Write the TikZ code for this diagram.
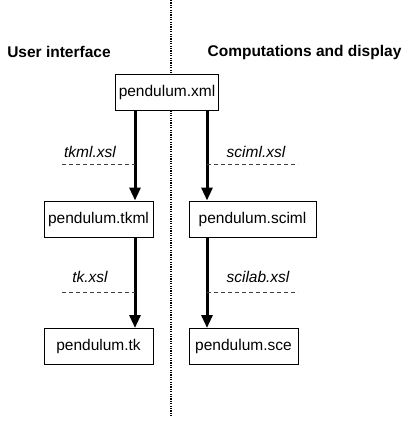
\documentclass[tikz,border=0pt]{standalone}
\usepackage{fontspec}
\setmainfont{Liberation Sans}
\usepackage{tikz}
\usetikzlibrary{arrows.meta}

\begin{document}
\begin{tikzpicture}[x=1pt, y=-1pt,
    font=\fontsize{15.5}{18}\selectfont,
    file/.style={rectangle, draw, fill=white, line width=1pt, minimum height=36pt, inner sep=3pt},
    head/.style={font=\fontsize{15.5}{18}\selectfont\bfseries},
    xsl/.style={font=\fontsize{15.5}{18}\selectfont\itshape},
    flow/.style={line width=3pt, -{Triangle[width=11pt,length=13pt]}},
    rule/.style={draw=black!75, line width=0.9pt, dash pattern=on 4pt off 3pt}]

    \useasboundingbox (0,0) rectangle (415,421);

    % separation between the two sides
    \coordinate (top) at (171,0);
    \coordinate (bot) at (171,416);
    \draw[line width=1.2pt, dash pattern=on 1.2pt off 1.2pt] (top) -- (bot);

    \node[head] (ui) at (59,52) {User interface};
    \node[head] (cd) at (304.5,52) {Computations and display};

    \node[file] (xml) at (167,92) {pendulum.xml};
    \node[file, minimum width=109pt] (tkml) at (98.5,219) {pendulum.tkml};
    \node[file, minimum width=127pt] (sciml) at (252.5,219) {pendulum.sciml};
    \node[file, minimum width=109pt] (tk) at (98.5,346.5) {pendulum.tk};
    \node[file, minimum width=109pt] (sce) at (243.5,346.5) {pendulum.sce};

    \coordinate (lft) at (135,0);
    \coordinate (rgt) at (207,0);

    \draw[flow] (xml.south -| lft) -- (tkml.north -| lft);
    \draw[flow] (xml.south -| rgt) -- (sciml.north -| rgt);
    \draw[flow] (tkml.south -| lft) -- (tk.north -| lft);
    \draw[flow] (sciml.south -| rgt) -- (sce.north -| rgt);

    % stylesheets
    \node[xsl] (tkmlxsl) at (90,152) {tkml.xsl};
    \node[xsl] (scimlxsl) at (256,152) {sciml.xsl};
    \node[xsl] (tkxsl) at (90,277) {tk.xsl};
    \node[xsl] (scilabxsl) at (258,277) {scilab.xsl};

    \coordinate (t1) at (62,164);
    \coordinate (t2) at (298,164);
    \coordinate (b1) at (62,292);
    \coordinate (b2) at (298,292);
    \draw[rule] (t1) -- (t1 -| lft);
    \draw[rule] (t2 -| rgt) -- (t2);
    \draw[rule] (b1) -- (b1 -| lft);
    \draw[rule] (b2 -| rgt) -- (b2);
\end{tikzpicture}
\end{document}
